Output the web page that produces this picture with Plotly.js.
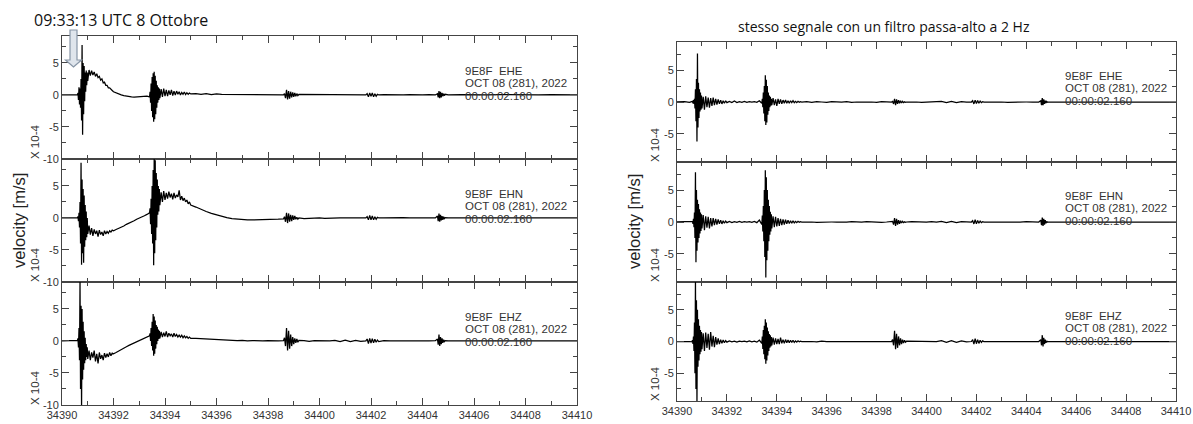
<!DOCTYPE html>
<html>
<head>
<meta charset="utf-8">
<script src="https://cdn.plot.ly/plotly-3.0.1.min.js"></script>
<style>html,body{margin:0;padding:0;background:#fff;}#chart{width:1193px;height:424px;}</style>
</head>
<body>
<div id="chart"></div>
<script>
// ---------------- DATA ----------------
// sample times (s), shared by all six traces
const time_s = [
  34390.00,34390.30,34390.50,34390.60,
  34390.62,34390.64,34390.66,34390.68,34390.70,34390.72,34390.74,34390.76,34390.78,34390.80,34390.82,34390.84,34390.86,34390.88,34390.90,34390.92,34390.94,34390.96,34390.98,34391.00,
  34391.05,34391.10,34391.15,34391.20,34391.25,34391.30,34391.35,34391.40,34391.45,34391.50,34391.55,34391.60,34391.65,34391.70,34391.75,34391.80,34391.85,34391.90,34391.95,34392.00,
  34392.1,34392.2,34392.3,34392.4,34392.5,34392.6,34392.7,34392.8,34392.9,34393.0,34393.1,34393.2,34393.3,34393.4,
  34393.42,34393.44,34393.46,34393.48,34393.50,34393.52,34393.54,34393.56,34393.58,34393.60,34393.62,34393.64,34393.66,34393.68,34393.70,34393.72,34393.74,34393.76,34393.78,34393.80,
  34393.85,34393.90,34393.95,34394.00,34394.05,34394.10,34394.15,34394.20,34394.25,34394.30,34394.35,34394.40,34394.45,34394.50,34394.55,34394.60,34394.65,34394.70,34394.75,34394.80,34394.85,34394.90,34394.95,34395.00,
  34395.2,34395.4,34395.6,34395.8,34396.0,34396.2,34396.4,34396.6,34396.8,34397.0,34397.2,34397.4,34397.6,34397.8,34398.0,34398.2,34398.4,34398.6,
  34398.64,34398.68,34398.72,34398.76,34398.80,34398.84,34398.88,34398.92,34398.96,34399.00,34399.04,34399.08,34399.12,34399.16,34399.20,
  34399.4,34399.6,34399.8,34400.0,34400.2,34400.4,34400.6,34400.8,34401.0,34401.2,34401.4,34401.6,34401.8,
  34401.85,34401.90,34401.95,34402.00,34402.05,34402.10,34402.15,34402.20,34402.25,34402.30,
  34402.5,34402.75,34403.0,34403.25,34403.5,34403.75,34404.0,34404.25,34404.5,
  34404.58,34404.61,34404.64,34404.67,34404.70,34404.73,34404.76,34404.79,34404.82,34404.85,34404.88,
  34405.0,34405.5,34406.0,34406.5,34407.0,34407.5,34408.0,34408.5,34409.0,34409.5,34410.0
];

// raw velocity, x 10^-4 m/s
const ehe_raw = [
  0,0,0.05,0,
  0.3,-0.8,1.2,-1.5,1.0,-2.0,2.5,-4.0,7.8,-6.2,5.0,-3.0,4.5,-1.0,3.5,0.5,3.8,1.5,3.5,2.2,
  3.9,3.0,3.8,3.1,3.6,2.9,3.3,2.7,2.9,2.3,2.5,1.9,2.0,1.5,1.5,1.1,1.1,0.8,0.7,0.5,
  0.3,0.2,0.0,-0.1,-0.2,-0.3,-0.3,-0.35,-0.3,-0.3,-0.3,-0.25,-0.2,-0.3,
  0.5,-1.2,1.8,-2.5,2.8,-3.5,3.4,-4.2,3.6,-3.8,3.0,-3.0,2.2,-2.0,1.5,-1.2,1.2,-0.8,1.0,-0.5,
  0.9,-0.3,1.0,-0.2,0.8,-0.2,0.7,0.0,0.8,-0.1,0.6,0.0,0.6,0.1,0.5,0.0,0.4,0.1,0.45,0.05,0.35,0.1,0.3,0.15,
  0.2,0.1,0.2,0.05,0.15,0.1,0.1,0.05,0.05,0.1,0.0,0.05,0.0,0.05,0.0,0.0,0.05,0.0,
  0.2,-0.5,0.8,-0.7,0.6,-0.6,0.5,-0.4,0.4,-0.3,0.3,-0.2,0.2,-0.1,0.1,
  0.1,0,0.05,0,0.1,0,0.05,0,0,0.05,0,0.05,0,
  0.2,-0.3,0.3,-0.2,0.3,-0.3,0.2,-0.2,0.1,0,
  0.05,0,0.05,0,0.05,0,0,0.05,0,
  0.2,-0.4,0.6,-0.5,0.5,-0.4,0.3,-0.2,0.2,-0.1,0.1,
  0,0.05,0,0,0.05,0,0,0,0.05,0,0
];
const ehn_raw = [
  0,0,0,0.05,
  0.2,-0.5,0.8,-1.5,2.5,-4.0,8.6,-7.3,6.0,-5.5,4.5,-7.0,3.5,-4.5,2.0,-3.5,1.0,-3.0,0.0,-2.5,
  -1.2,-2.6,-1.6,-2.8,-1.8,-2.5,-2.0,-2.9,-1.9,-2.6,-2.2,-2.8,-2.0,-2.5,-2.1,-2.4,-2.0,-2.2,-1.9,-2.0,
  -1.8,-1.65,-1.4,-1.25,-1.0,-0.85,-0.6,-0.45,-0.2,-0.05,0.2,0.35,0.55,0.8,
  1.5,-1.0,3.0,-2.5,5.0,-4.0,7.5,-7.4,9.5,-5.5,9.0,-3.5,7.0,-1.5,6.0,0.5,5.0,1.0,4.5,2.0,
  4.0,2.5,4.2,2.8,3.9,3.0,4.1,3.2,3.8,2.9,3.9,3.1,3.6,3.3,4.3,2.8,3.4,2.7,3.1,2.5,2.8,2.2,2.5,2.0,
  1.7,1.3,1.0,0.7,0.45,0.2,0.05,-0.1,-0.2,-0.25,-0.3,-0.3,-0.3,-0.25,-0.25,-0.2,-0.2,-0.15,
  0.2,-0.6,0.8,-0.8,0.7,-0.6,0.5,-0.5,0.4,-0.3,0.3,-0.2,0.1,-0.2,0.0,
  -0.1,-0.05,-0.1,0,-0.05,0,0.05,0,0,0.05,0,0,0,
  0.2,-0.3,0.4,-0.3,0.3,-0.3,0.2,-0.2,0.1,0,
  0,0.05,0,0.05,0,0,0.05,0,0,
  0.3,-0.5,0.7,-0.6,0.5,-0.4,0.3,-0.3,0.2,-0.1,0.05,
  0,0,0.05,0,0,0,0.05,0,0,0,0
];
const ehz_raw = [
  0,0,0,0.1,
  0.4,-1.0,2.0,-3.0,9.5,-7.5,5.5,-10.5,5.0,-6.0,3.0,-4.5,1.5,-3.5,0.5,-3.0,-0.5,-2.5,-1.0,-2.8,
  -1.5,-3.0,-1.8,-2.6,-1.5,-3.2,-2.0,-3.5,-1.8,-2.8,-2.2,-3.0,-1.9,-2.6,-2.0,-2.5,-1.8,-2.3,-1.9,-2.0,
  -1.8,-1.55,-1.35,-1.1,-0.9,-0.7,-0.5,-0.3,-0.1,0.1,0.3,0.5,0.6,0.8,
  1.2,0.0,2.0,-0.8,3.0,-1.5,4.2,-2.3,3.8,-2.0,3.2,-1.2,2.5,-0.5,2.2,0.0,1.8,0.3,1.6,0.4,
  1.4,0.6,1.3,0.7,1.5,0.6,1.2,0.8,1.1,0.6,1.2,0.7,1.0,0.6,0.9,0.6,0.9,0.5,0.8,0.5,0.7,0.4,0.6,0.4,
  0.4,0.35,0.3,0.25,0.2,0.2,0.1,0.1,0.05,0.1,0.0,0.05,0.0,0.0,0.05,0.0,0.0,0.05,
  0.5,-0.8,2.0,-1.5,1.6,-1.2,1.0,-0.8,0.6,-0.5,0.4,-0.3,0.3,-0.2,0.1,
  0.05,-0.05,0.05,0,0.05,0,0.1,-0.1,0.12,-0.1,0.1,-0.08,0,
  0.3,-0.4,0.4,-0.35,0.35,-0.3,0.25,-0.2,0.15,-0.1,
  0.05,0,0.05,0,0,0.05,0,0,0.05,
  0.3,-0.6,1.0,-0.8,0.6,-0.5,0.4,-0.3,0.2,-0.1,0.05,
  0,0,0,0.05,0,0,0,0,0.05,0,0
];

// same signal, 2 Hz high-pass, x 10^-4 m/s
const ehe_hp = [
  0,0.05,-0.05,0,
  0.1,-0.2,0.3,-0.3,0.5,-1.0,2.0,-3.0,3.6,-6.2,7.6,-4.0,3.0,-2.5,2.0,-1.5,1.5,-1.2,1.0,-1.0,
  0.8,-1.2,0.9,-0.8,0.7,-0.9,0.6,-0.6,0.7,-0.5,0.5,-0.4,0.4,-0.3,0.3,-0.3,0.2,-0.2,0.2,-0.1,
  0.1,-0.1,0.15,-0.1,0.05,-0.05,0.1,-0.05,0.05,0,0.05,-0.05,0.2,-0.2,
  0.5,-0.8,1.5,-1.8,2.5,-3.0,4.2,-3.6,3.5,-3.2,2.5,-2.0,1.5,-1.4,1.0,-0.8,0.8,-0.6,0.5,-0.5,
  0.6,-0.5,0.4,-0.6,0.5,-0.3,0.4,-0.3,0.3,-0.2,0.3,-0.2,0.2,-0.2,0.2,-0.1,0.2,-0.1,0.1,-0.1,0.1,-0.05,0.05,0,
  0.05,-0.05,0.05,0,-0.05,0.05,0,0,0.05,-0.05,0,0.05,0,0,-0.05,0.05,0,0,
  0.1,-0.3,0.5,-0.5,0.4,-0.3,0.3,-0.2,0.2,-0.15,0.1,-0.1,0.05,-0.05,0,
  0.05,0,-0.05,0,0.05,0,0.1,-0.1,0.1,-0.1,0.05,0,0,
  0.2,-0.3,0.3,-0.25,0.25,-0.2,0.15,-0.1,0.05,0,
  0,0.05,0,-0.05,0,0.05,0,0,0,
  0.2,-0.5,0.6,-0.5,0.4,-0.3,0.2,-0.15,0.1,-0.05,0,
  0,0.05,-0.05,0,0.05,0,-0.05,0,0.05,0,0
];
const ehn_hp = [
  0,0,0.05,0,
  0.1,-0.3,0.5,-0.8,1.5,-2.5,7.8,-6.3,5.0,-4.5,3.5,-3.2,2.8,-2.5,2.0,-1.8,1.5,-1.4,1.2,-1.0,
  1.1,-1.3,0.9,-0.9,0.8,-1.0,0.6,-0.7,0.6,-0.5,0.5,-0.4,0.4,-0.3,0.3,-0.3,0.2,-0.2,0.15,-0.1,
  0.1,-0.1,0.05,-0.05,0.1,-0.05,0.05,0,0.05,-0.05,0.1,-0.1,0.3,-0.4,
  1.0,-1.5,2.5,-3.0,5.0,-5.5,8.1,-8.7,7.0,-6.0,5.0,-4.5,3.5,-3.0,2.5,-2.0,1.6,-1.5,1.2,-1.0,
  0.9,-0.8,0.8,-0.7,0.6,-0.6,0.5,-0.5,0.4,-0.4,0.35,-0.3,0.3,-0.25,0.2,-0.2,0.2,-0.15,0.1,-0.1,0.1,-0.05,0.05,0,
  0.05,0,-0.05,0,0.05,0,0,-0.05,0,0.05,0,0,0.05,0,0,-0.05,0,0,
  0.1,-0.4,0.6,-0.6,0.5,-0.4,0.3,-0.3,0.2,-0.15,0.1,-0.1,0.05,-0.05,0,
  0.05,0,-0.05,0,0.05,0,0.1,-0.1,0.1,-0.1,0.05,0,0,
  0.2,-0.3,0.35,-0.3,0.25,-0.2,0.15,-0.1,0.05,0,
  0,0.05,0,0,-0.05,0,0.05,0,0,
  0.3,-0.5,0.7,-0.6,0.5,-0.4,0.3,-0.2,0.1,-0.05,0,
  0,-0.05,0,0.05,0,-0.05,0,0.05,0,0,0
];
const ehz_hp = [
  0,0.05,0,-0.05,
  0.2,-0.4,0.8,-1.5,3.0,-5.0,9.8,-7.5,6.5,-9.8,5.0,-4.0,3.5,-3.0,2.5,-2.0,1.8,-1.6,1.5,-1.2,
  1.3,-1.5,1.4,-1.0,1.2,-1.3,1.5,-0.8,0.9,-0.9,0.7,-0.5,0.5,-0.4,0.3,-0.3,0.25,-0.2,0.15,-0.1,
  0.1,-0.05,0.05,-0.1,0.05,0,0.05,-0.05,0.1,-0.05,0.05,-0.1,0.2,-0.3,
  0.8,-1.2,1.8,-2.0,2.5,-2.8,3.5,-3.5,3.0,-3.0,2.2,-2.2,1.6,-1.5,1.2,-1.0,1.0,-0.8,0.7,-0.6,
  0.6,-0.5,0.5,-0.4,0.4,-0.4,0.6,-0.3,0.3,-0.3,0.3,-0.2,0.25,-0.2,0.2,-0.15,0.2,-0.15,0.1,-0.1,0.1,-0.05,0.05,0,
  0.05,0,-0.05,0.05,0,0,0.05,-0.05,0,0.05,0,-0.05,0.05,0,0,0.05,0,0,
  0.3,-0.6,1.7,-1.2,1.2,-1.0,0.8,-0.6,0.5,-0.4,0.3,-0.25,0.2,-0.1,0.05,
  0.05,-0.05,0.05,0,0.05,0,0.12,-0.12,0.15,-0.12,0.1,-0.05,0,
  0.3,-0.4,0.45,-0.35,0.3,-0.3,0.2,-0.15,0.1,0,
  0,0.05,0,0,0.05,0,-0.05,0,0,
  0.3,-0.6,1.0,-0.8,0.6,-0.4,0.3,-0.2,0.1,-0.05,0,
  0,0.05,0,-0.05,0,0.05,0,0,-0.05,0,0
];

const channels = ['EHE', 'EHN', 'EHZ'];
const stationId = '9E8F';
const dateLine = 'OCT 08 (281), 2022';
const startLine = '00:00:02.160';
const xTickVals = [34390, 34392, 34394, 34396, 34398, 34400, 34402, 34404, 34406, 34408, 34410];
const xTickText = ['34390', '34392', '34394', '34396', '34398', '34400', '34402', '34404', '34406', '34408', '34410'];
const yTickValsRaw = [-10, -5, 0, 5];
const yTickTextRaw = ['-10', '-5', '0', '5'];
const yTickValsHp = [-5, 0, 5];
const yTickTextHp = ['-5', '0', '5'];
const leftTitle = '09:33:13 UTC 8 Ottobre';
const rightTitle = 'stesso segnale con un filtro passa-alto a 2 Hz';
const yLabel = 'velocity [m/s]';
const scaleLabel = 'X 10-4';

// ---------------- LAYOUT ----------------
const W = 1193, H = 424;
const px = v => v / W;
const py = v => 1 - v / H;
const FONT = 'Liberation Sans, Arial, sans-serif';

const panels = [
  { series: [ehe_raw, ehn_raw, ehz_raw], x0: 62, x1: 577,
    rows: [[36, 159], [159, 282], [282, 405]], yr: [-10, 9.2],
    tv: yTickValsRaw, tt: yTickTextRaw, textPx: 463, textShift: [24, 12, -1],
    scaleX: 35, velX: 19, velY: 221 },
  { series: [ehe_hp, ehn_hp, ehz_hp], x0: 677, x1: 1176,
    rows: [[42, 162], [162, 282], [282, 401]], yr: [-9.4, 9.4],
    tv: yTickValsHp, tt: yTickTextHp, textPx: 1063, textShift: [26, 14, 1],
    scaleX: 655, velX: 634, velY: 222 }
];

const data = [];
const layout = {
  width: W, height: H, autosize: false,
  margin: { l: 0, r: 0, t: 0, b: 0, pad: 0 },
  paper_bgcolor: '#fff', plot_bgcolor: '#fff',
  showlegend: false,
  font: { family: FONT, size: 11, color: '#333' },
  annotations: [], shapes: []
};

let idx = 0;
panels.forEach(p => {
  p.rows.forEach((row, r) => {
    idx++;
    const sfx = idx === 1 ? '' : String(idx);
    data.push({
      x: time_s, y: p.series[r], type: 'scatter', mode: 'lines',
      xaxis: 'x' + sfx, yaxis: 'y' + sfx,
      line: { color: '#000', width: 1.25 }, hoverinfo: 'skip'
    });
    const isBottom = r === 2;
    layout['xaxis' + sfx] = {
      domain: [px(p.x0), px(p.x1)], range: [34390, 34410], anchor: 'y' + sfx,
      showline: true, linecolor: '#444', linewidth: 1, mirror: 'ticks',
      ticks: 'inside', ticklen: 7, tickwidth: 1, tickcolor: '#444',
      tickmode: 'array', tickvals: xTickVals, ticktext: xTickText,
      minor: { dtick: 1, tick0: 34390, ticks: 'inside', ticklen: 4, tickcolor: '#444', showgrid: false },
      showticklabels: isBottom, showgrid: false, zeroline: false, fixedrange: true,
      tickfont: { family: FONT, size: 11, color: '#333' }
    };
    layout['yaxis' + sfx] = {
      domain: [py(row[1]), py(row[0])], range: p.yr, anchor: 'x' + sfx,
      showline: true, linecolor: '#444', linewidth: 1, mirror: 'ticks',
      ticks: 'inside', ticklen: 7, tickwidth: 1, tickcolor: '#444',
      tickmode: 'array', tickvals: p.tv, ticktext: p.tt,
      minor: { dtick: 2.5, tick0: 0, ticks: 'inside', ticklen: 4, tickcolor: '#444', showgrid: false },
      showgrid: false, zeroline: false, fixedrange: true,
      tickfont: { family: FONT, size: 11, color: '#333' }
    };
    // station text block
    const xData = 34390 + (p.textPx - p.x0) / (p.x1 - p.x0) * 20;
    const lines = [stationId + '\u00a0 ' + channels[r], dateLine, startLine];
    lines.forEach((t, k) => {
      layout.annotations.push({
        text: t, xref: 'x' + sfx, yref: 'y' + sfx, x: xData, y: 0,
        yshift: p.textShift[k], xanchor: 'left', yanchor: 'middle', showarrow: false,
        font: { family: FONT, size: 11.5, color: '#333' }
      });
    });
    // scale label
    layout.annotations.push({
      text: scaleLabel, xref: 'paper', yref: 'paper', x: px(p.scaleX), y: py(row[1] - 17),
      xanchor: 'center', yanchor: 'middle', textangle: -90, showarrow: false,
      font: { family: FONT, size: 11.5, color: '#333' }
    });
  });
  layout.annotations.push({
    text: yLabel, xref: 'paper', yref: 'paper', x: px(p.velX), y: py(p.velY),
    xanchor: 'center', yanchor: 'middle', textangle: -90, showarrow: false,
    font: { family: FONT, size: 16.5, color: '#222' }
  });
});

layout.annotations.push({
  text: leftTitle, xref: 'paper', yref: 'paper', x: px(32), y: py(20),
  xanchor: 'left', yanchor: 'middle', showarrow: false,
  font: { family: 'Open Sans, sans-serif', size: 16, color: '#111' }
});
layout.annotations.push({
  text: rightTitle, xref: 'paper', yref: 'paper', x: px(884), y: py(27),
  xanchor: 'center', yanchor: 'middle', showarrow: false,
  font: { family: 'Open Sans, sans-serif', size: 14, color: '#111' }
});

// block arrow pointing to the first arrival
const arrowPts = [[70, 30], [77, 30], [77, 60], [81.5, 60], [73.5, 67], [65.5, 60], [70, 60]];
layout.shapes.push({
  type: 'path', xref: 'paper', yref: 'paper',
  path: 'M' + arrowPts.map(q => px(q[0]).toFixed(5) + ',' + py(q[1]).toFixed(5)).join(' L') + ' Z',
  fillcolor: '#dfe5ec', line: { color: '#8795a6', width: 1.2 }, layer: 'above'
});

Plotly.newPlot('chart', data, layout, { displayModeBar: false, staticPlot: true });
</script>
</body>
</html>
